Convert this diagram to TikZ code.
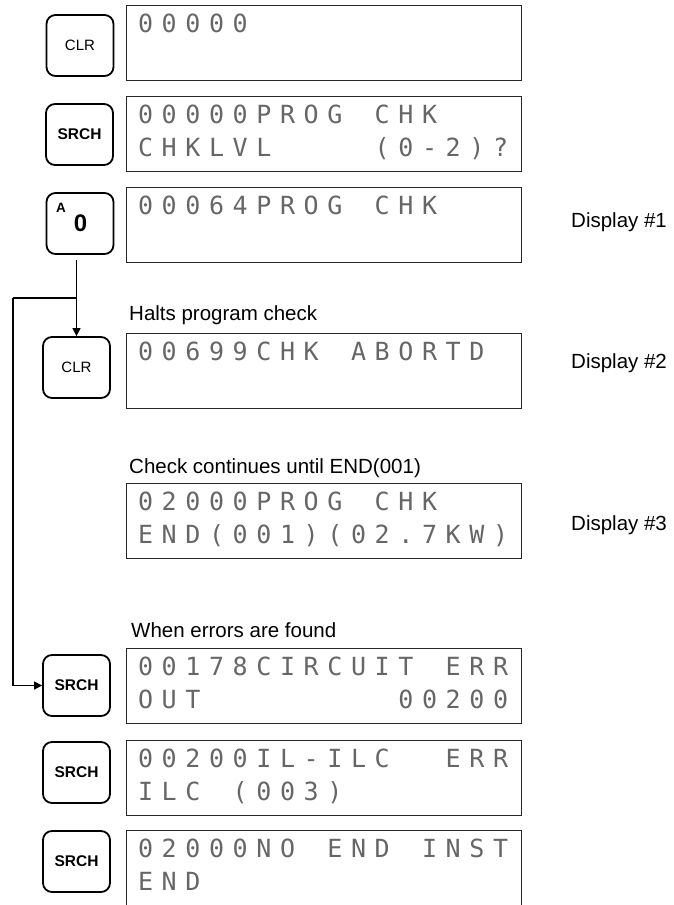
\documentclass[tikz,border=0pt]{standalone}
\usepackage{fontspec}
\setmainfont{Liberation Sans}
\newfontfamily\lcdfont{DejaVu Sans Mono}
\usetikzlibrary{arrows.meta}

% one character cell of the 16-column display
\newlength\lcdpitch
\setlength\lcdpitch{23.67pt}
\def\lcdend{\lcdend}
\newcommand\lcdline[1]{\lcdstep#1\lcdend}
\def\lcdstep#1{\ifx#1\lcdend\else\makebox[\lcdpitch]{#1}\expandafter\lcdstep\fi}

\begin{document}
\begin{tikzpicture}[x=1pt, y=-1pt,
    keybox/.style={draw, line width=1.8pt, rounded corners=9pt, minimum width=67pt, minimum height=61pt, inner sep=0pt, font=\fontsize{15}{15}\selectfont},
    boldkey/.style={keybox, font=\bfseries\fontsize{15.5}{15.5}\selectfont},
    lcd/.style={draw=black!85, line width=1pt, minimum width=395pt, minimum height=75pt, inner sep=0pt, anchor=north west},
    lcdtext/.style={anchor=base west, inner sep=0pt, text=black!60, font=\lcdfont\fontsize{25}{25}\selectfont},
    note/.style={anchor=west, inner sep=0pt, font=\fontsize{20.5}{20.5}\selectfont},
    wire/.style={line width=1.4pt},
    flow/.style={wire, -{Triangle[length=8pt, width=8pt]}}
]
\useasboundingbox (0,0) rectangle (674,905);

% keys
\node[keybox] (clr1) at (80,45.5) {CLR};
\node[boldkey] (srch1) at (79.5,134.5) {SRCH};
\node[keybox] (zero) at (80,223.5) {};
\node[font=\bfseries\fontsize{13.5}{13.5}\selectfont, inner sep=0pt] (zeroA) at (61,207.5) {A};
\node[font=\bfseries\fontsize{24}{24}\selectfont, inner sep=0pt] (zero0) at (80.5,223) {0};
\node[keybox] (clr2) at (76.5,367.5) {CLR};
\node[boldkey] (srch2) at (76.5,685.5) {SRCH};
\node[boldkey] (srch3) at (76.5,772.5) {SRCH};
\node[boldkey] (srch4) at (76.5,861.5) {SRCH};

% displays
\node[lcd] (d1) at (126,5) {};
\node[lcd] (d2) at (126,96) {};
\node[lcd] (d3) at (126,187) {};
\node[lcd] (d4) at (126,333) {};
\node[lcd] (d5) at (126,483) {};
\node[lcd] (d6) at (126,648) {};
\node[lcd] (d7) at (126,740) {};
\node[lcd] (d8) at (126,830) {};

\node[lcdtext] (d1a) at ([shift={(7.5,27)}]d1.north west) {\lcdline{00000}};
\node[lcdtext] (d2a) at ([shift={(7.5,27)}]d2.north west) {\lcdline{00000PROG~CHK}};
\node[lcdtext] (d2b) at ([shift={(7.5,60)}]d2.north west) {\lcdline{CHKLVL~~~~(0-2)?}};
\node[lcdtext] (d3a) at ([shift={(7.5,27)}]d3.north west) {\lcdline{00064PROG~CHK}};
\node[lcdtext] (d4a) at ([shift={(7.5,27)}]d4.north west) {\lcdline{00699CHK~ABORTD}};
\node[lcdtext] (d5a) at ([shift={(7.5,27)}]d5.north west) {\lcdline{02000PROG~CHK}};
\node[lcdtext] (d5b) at ([shift={(7.5,60)}]d5.north west) {\lcdline{END(001)(02.7KW)}};
\node[lcdtext] (d6a) at ([shift={(7.5,27)}]d6.north west) {\lcdline{00178CIRCUIT~ERR}};
\node[lcdtext] (d6b) at ([shift={(7.5,60)}]d6.north west) {\lcdline{OUT~~~~~~~~00200}};
\node[lcdtext] (d7a) at ([shift={(7.5,27)}]d7.north west) {\lcdline{00200IL-ILC~~ERR}};
\node[lcdtext] (d7b) at ([shift={(7.5,60)}]d7.north west) {\lcdline{ILC~(003)}};
\node[lcdtext] (d8a) at ([shift={(7.5,27)}]d8.north west) {\lcdline{02000NO~END~INST}};
\node[lcdtext] (d8b) at ([shift={(7.5,60)}]d8.north west) {\lcdline{END}};

% notes
\node[note] (halts) at (129,315) {Halts program check};
\node[note] (cont) at (129,468) {Check continues until END(001)};
\node[note] (found) at (131,630) {When errors are found};
\node[note] (disp1) at (571,222) {Display \#1};
\node[note] (disp2) at (571,363) {Display \#2};
\node[note] (disp3) at (571,525) {Display \#3};

% connectors
\coordinate (tap) at (76.5,260);
\coordinate (split) at (76.5,298);
\coordinate (rail) at (13,298);
\draw[wire] (tap) -- (split) -- (rail);
\draw[flow] (split) -- (clr2.north);
\draw[flow] (rail) |- (srch2.west);
\end{tikzpicture}
\end{document}
